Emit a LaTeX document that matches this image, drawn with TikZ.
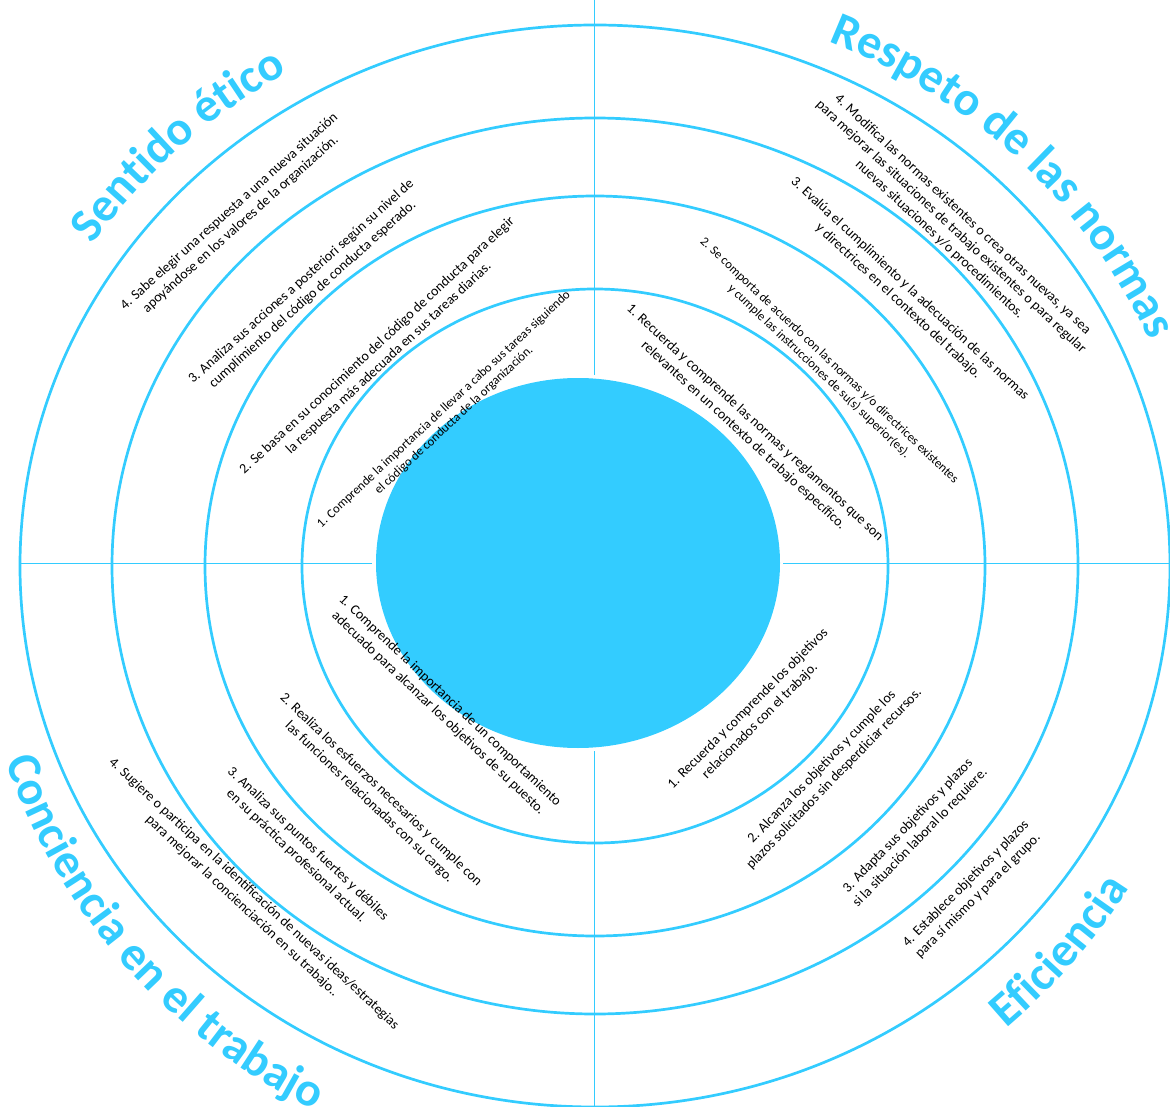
\documentclass[tikz,border=0pt]{standalone}
\usepackage{fontspec}
\setmainfont{Carlito}
\usetikzlibrary{decorations.text,calc}
\definecolor{cblue}{RGB}{51,204,255}
\newcommand{\ttlfont}{\fontsize{48}{52}\selectfont\bfseries}
\begin{document}
\begin{tikzpicture}[x=1pt,y=1pt,
  ring/.style={draw=cblue, line width=2.7pt},
  axisline/.style={draw=cblue, line width=1.6pt},
  lab/.style={align=center, font=\fontsize{14}{17}\selectfont, inner sep=0pt, text=black},
  labsmall/.style={align=center, font=\fontsize{12.7}{15}\selectfont, inner sep=0pt, text=black},
  ttl/.style={decorate, decoration={text along path, text align=center, text color=cblue}},
]
\useasboundingbox (0,0) rectangle (1170,-1107);
\clip (0,0) rectangle (1170,-1107);
\coordinate (C) at (595,-566);

% rings
\draw[ring] (C) ellipse [x radius=575, y radius=541];
\draw[ring] (C) ellipse [x radius=483, y radius=448];
\draw[ring] (C) ellipse [x radius=390, y radius=370];
\draw[ring] (C) ellipse [x radius=293, y radius=277];

% core
\fill[cblue] (578,-563) ellipse [x radius=202, y radius=185];

% axes
\coordinate (vt1) at (594.5,0);
\coordinate (vt2) at (594.5,-375);
\coordinate (vb1) at (594.5,-751);
\coordinate (vb2) at (594.5,-1107);
\coordinate (hl1) at (20,-563.5);
\coordinate (hl2) at (372,-563.5);
\coordinate (hr1) at (783,-563.5);
\coordinate (hr2) at (1170,-563.5);
\draw[axisline] (vt1) -- (vt2);
\draw[axisline] (vb1) -- (vb2);
\draw[axisline] (hl1) -- (hl2);
\draw[axisline] (hr1) -- (hr2);

% titles
\path[ttl, decoration={text={|\ttlfont|Sentido ético}}]
  ($(C)+(184:607 and 572)$) arc[start angle=184, end angle=84, x radius=607, y radius=572];
\path[ttl, decoration={text={|\ttlfont|Respeto de las normas}}]
  ($(C)+(94.5:604 and 569)$) arc[start angle=94.5, end angle=-5.5, x radius=604, y radius=569];
\path[ttl, decoration={text={|\ttlfont|Conciencia en el trabajo}}]
  ($(C)+(170.7:622 and 610)$) arc[start angle=170.7, end angle=270.7, x radius=622, y radius=610];
\path[ttl, decoration={text={|\ttlfont|Eficiencia}}]
  ($(C)+(-90:628 and 612)$) arc[start angle=-90, end angle=10, x radius=628, y radius=612];

% Sentido etico
\node[lab, rotate=42] (tl4) at (235,-218) {4. Sabe elegir una respuesta a una nueva situación\\apoyándose en los valores de la organización.};
\node[lab, rotate=42] (tl3) at (307,-288) {3. Analiza sus acciones a posteriori según su nivel de\\cumplimiento del código de conducta esperado.};
\node[lab, rotate=43] (tl2) at (383,-352) {2. Se basa en su conocimiento del código de conducta para elegir\\la respuesta más adecuada en sus tareas diarias.};
\node[labsmall, rotate=43] (tl1) at (449,-415) {1. Comprende la importancia de llevar a cabo sus tareas siguiendo\\el código de conducta de la organización.};

% Respeto de las normas
\node[lab, rotate=-43] (tr4) at (951,-227) {4. Modifica las normas existentes o crea otras nuevas, ya sea\\para mejorar las situaciones de trabajo existentes o para regular\\nuevas situaciones y/o procedimientos.};
\node[lab, rotate=-43] (tr3) at (904,-295) {3. Evalúa el cumplimiento y la adecuación de las normas\\y directrices en el contexto del trabajo.};
\node[labsmall, rotate=-43.5] (tr2) at (824,-366) {2. Se comporta de acuerdo con las normas y/o directrices existentes\\y cumple las instrucciones de su(s) superior(es).};
\node[lab, rotate=-42.5] (tr1) at (749,-429) {1. Recuerda y comprende las normas y reglamentos que son\\relevantes en un contexto de trabajo específico.};

% Conciencia en el trabajo
\node[lab, rotate=-43.5] (bl1) at (444,-707) {1. Comprende la importancia de un comportamiento\\adecuado para alcanzar los objetivos de su puesto.};
\node[lab, rotate=-43.5] (bl2) at (375,-796) {2. Realiza los esfuerzos necesarios y cumple con\\las funciones relacionadas con su cargo.};
\node[lab, rotate=-43.5] (bl3) at (302,-850) {3. Analiza sus puntos fuertes y débiles\\en su práctica profesional actual.};
\node[lab, rotate=-43] (bl4) at (248,-900) {4. Sugiere o participa en la identificación de nuevas ideas/estrategias\\para mejorar la concienciación en su trabajo..};

% Eficiencia
\node[lab, rotate=45] (br1) at (754,-715) {1. Recuerda y comprende los objetivos\\relacionados con el trabajo.};
\node[lab, rotate=46] (br2) at (828,-773) {2. Alcanza los objetivos y cumple los\\plazos solicitados sin desperdiciar recursos.};
\node[lab, rotate=46] (br3) at (914,-832) {3. Adapta sus objetivos y plazos\\si la situación laboral lo requiere.};
\node[lab, rotate=45] (br4) at (972,-890) {4. Establece objetivos y plazos\\para sí mismo y para el grupo.};
\end{tikzpicture}
\end{document}
